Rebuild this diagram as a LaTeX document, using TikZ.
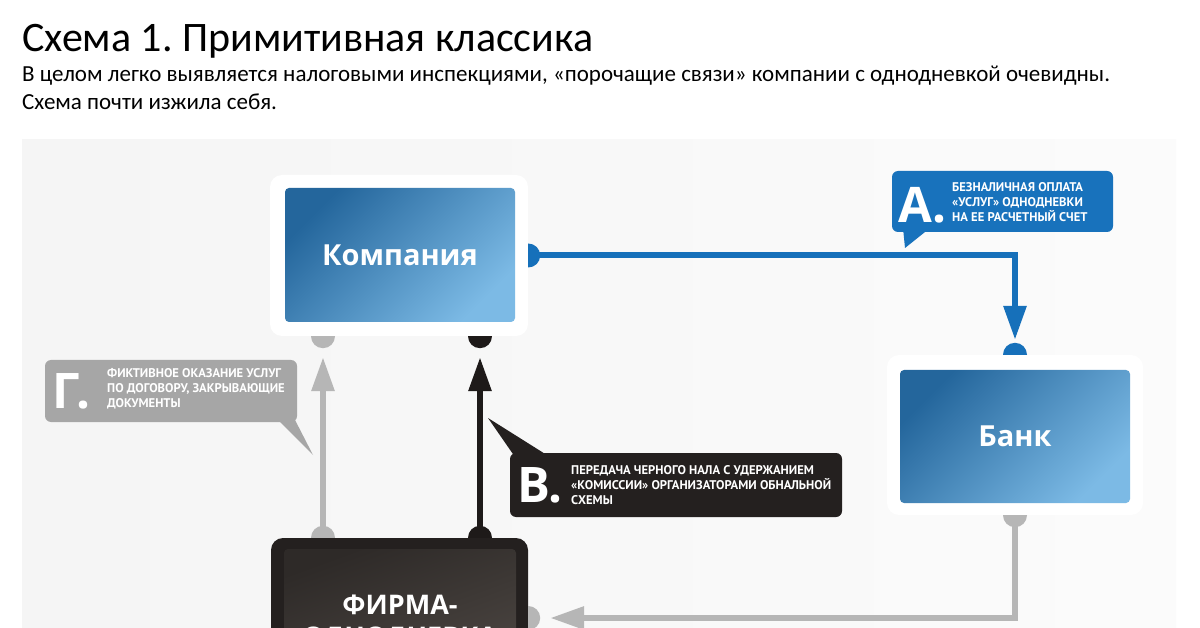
\documentclass[tikz,border=0pt]{standalone}
\usepackage{fontspec}
\setmainfont{Carlito}
\newfontfamily\heavyfont{Open Sans}
\newfontfamily\capsfont{PT Sans}
\usetikzlibrary{arrows.meta}

\definecolor{blueD}{RGB}{36,102,156}
\definecolor{blueL}{RGB}{124,186,229}
\definecolor{calloutblue}{RGB}{24,114,188}
\definecolor{calloutgray}{RGB}{166,166,166}
\definecolor{calloutblack}{RGB}{36,32,31}
\definecolor{firmaD}{RGB}{46,42,40}
\definecolor{firmaL}{RGB}{78,72,68}
\definecolor{lineblue}{RGB}{22,112,186}
\definecolor{linegray}{RGB}{182,182,182}
\definecolor{lineblack}{RGB}{30,26,25}

\begin{document}
\frenchspacing
\begin{tikzpicture}[x=1pt,y=-1pt,
    frame/.style={fill=white,rounded corners=12pt,inner sep=0pt},
    bluebox/.style={rounded corners=4pt,inner sep=0pt,top color=blueD,bottom color=blueL,
      shading angle=45,text=white,font=\heavyfont\bfseries\fontsize{29}{32}\selectfont},
    callout/.style={rounded corners=6pt,inner sep=0pt},
    bigletter/.style={text=white,inner sep=0pt,anchor=base west,
      font=\heavyfont\bfseries\fontsize{49}{49}\selectfont},
    callouttext/.style={text=white,inner sep=0pt,align=left,anchor=west,
      font=\capsfont\bfseries\fontsize{12.6}{15}\selectfont},
    conn/.style={line width=6pt},
    arrowhd/.style={-{Triangle[length=34pt,width=22pt]}}
  ]
  \useasboundingbox (0,0) rectangle (1200,628);
  \clip (0,0) rectangle (1200,628);
  \fill[white] (0,0) rectangle (1200,628);
  \shade[left color=gray!8,right color=gray!3] (22,140) rectangle (1176,628);

  % title
  \node[anchor=base west,inner sep=0pt,font=\fontsize{42}{42}\selectfont] (title) at (22,52)
    {Схема 1. Примитивная классика};
  \node[anchor=base west,inner sep=0pt,font=\fontsize{23}{23}\selectfont] (sub1) at (22,82)
    {В целом легко выявляется налоговыми инспекциями, «порочащие связи» компании с однодневкой очевидны.};
  \node[anchor=base west,inner sep=0pt,font=\fontsize{23}{23}\selectfont] (sub2) at (22,110)
    {Схема почти изжила себя.};

  % boxes
  \node[frame,minimum width=258pt,minimum height=161pt] (kompfr) at (399,255.5) {};
  \node[bluebox,minimum width=230pt,minimum height=134pt] (komp) at (400,255) {Компания};
  \node[frame,minimum width=256pt,minimum height=160pt] (bankfr) at (1015,435) {};
  \node[bluebox,minimum width=230pt,minimum height=133pt] (bank) at (1015,436.5) {Банк};
  \node[fill=calloutblack,rounded corners=12pt,minimum width=257pt,minimum height=170pt] (firmafr) at (399.5,623) {};
  \node[rounded corners=4pt,inner sep=0pt,left color=firmaD,right color=firmaL,shading angle=20,
    minimum width=232pt,minimum height=150pt,align=center,text=white,
    font=\heavyfont\bfseries\fontsize{27}{32}\selectfont] (firma) at (400,624) {ФИРМА-\\ОДНОДНЕВКА};

  % connectors
  \coordinate (gx) at (323,0);
  \coordinate (bx) at (480,0);
  \coordinate (gy) at (0,618);
  \draw[conn,lineblue,arrowhd,shorten >=15pt] (kompfr.east) -| (bankfr.north);
  \fill[lineblue] (kompfr.east) +(0,-12) arc[start angle=270,end angle=450,radius=12] -- cycle;
  \fill[lineblue] (bankfr.north) +(-12,0) arc[start angle=180,end angle=360,radius=12] -- cycle;

  \draw[conn,linegray,arrowhd,shorten >=21pt,shorten <=6pt] (firmafr.north -| gx) -- (kompfr.south -| gx);
  \fill[linegray] (kompfr.south -| gx) +(-12,0) arc[start angle=180,end angle=0,radius=12] -- cycle;
  \fill[linegray] (firmafr.north -| gx) +(-12,0) arc[start angle=180,end angle=360,radius=12] -- cycle;

  \draw[conn,lineblack,arrowhd,shorten >=21pt,shorten <=6pt] (firmafr.north -| bx) -- (kompfr.south -| bx);
  \fill[lineblack] (kompfr.south -| bx) +(-12,0) arc[start angle=180,end angle=0,radius=12] -- cycle;
  \fill[lineblack] (firmafr.north -| bx) +(-12,0) arc[start angle=180,end angle=360,radius=12] -- cycle;

  \draw[conn,linegray,arrowhd,shorten >=22pt,shorten <=6pt] (bankfr.south) |- (firmafr.east |- gy);
  \fill[linegray] (bankfr.south) +(-12,0) arc[start angle=180,end angle=0,radius=12] -- cycle;
  \fill[linegray] (firmafr.east |- gy) +(0,-12) arc[start angle=270,end angle=450,radius=12] -- cycle;

  % callouts
  \fill[calloutblue] (903,228) -- (905,248) -- (930,228) -- cycle;
  \node[callout,fill=calloutblue,minimum width=221pt,minimum height=61pt] (ca) at (1002.5,201.5) {};
  \node[bigletter] (la) at (898,223) {А.};
  \node[callouttext] (ta) at (952,202) {БЕЗНАЛИЧНАЯ ОПЛАТА\\«УСЛУГ» ОДНОДНЕВКИ\\НА ЕЕ РАСЧЕТНЫЙ СЧЕТ};

  \fill[calloutgray] (276,418) -- (313,455) -- (294,418) -- cycle;
  \node[callout,fill=calloutgray,minimum width=252pt,minimum height=62pt] (cg) at (171,391) {};
  \node[bigletter] (lg) at (52,408) {Г.};
  \node[callouttext] (tg) at (107,389) {ФИКТИВНОЕ ОКАЗАНИЕ УСЛУГ\\ПО ДОГОВОРУ, ЗАКРЫВАЮЩИЕ\\ДОКУМЕНТЫ};

  \fill[calloutblack] (515,457) -- (488,418) -- (550,457) -- cycle;
  \node[callout,fill=calloutblack,minimum width=332pt,minimum height=64pt] (cv) at (676,485) {};
  \node[bigletter] (lv) at (517,502) {В.};
  \node[callouttext] (tv) at (571,485) {ПЕРЕДАЧА ЧЕРНОГО НАЛА С УДЕРЖАНИЕМ\\«КОМИССИИ» ОРГАНИЗАТОРАМИ ОБНАЛЬНОЙ\\СХЕМЫ};
\end{tikzpicture}
\end{document}
